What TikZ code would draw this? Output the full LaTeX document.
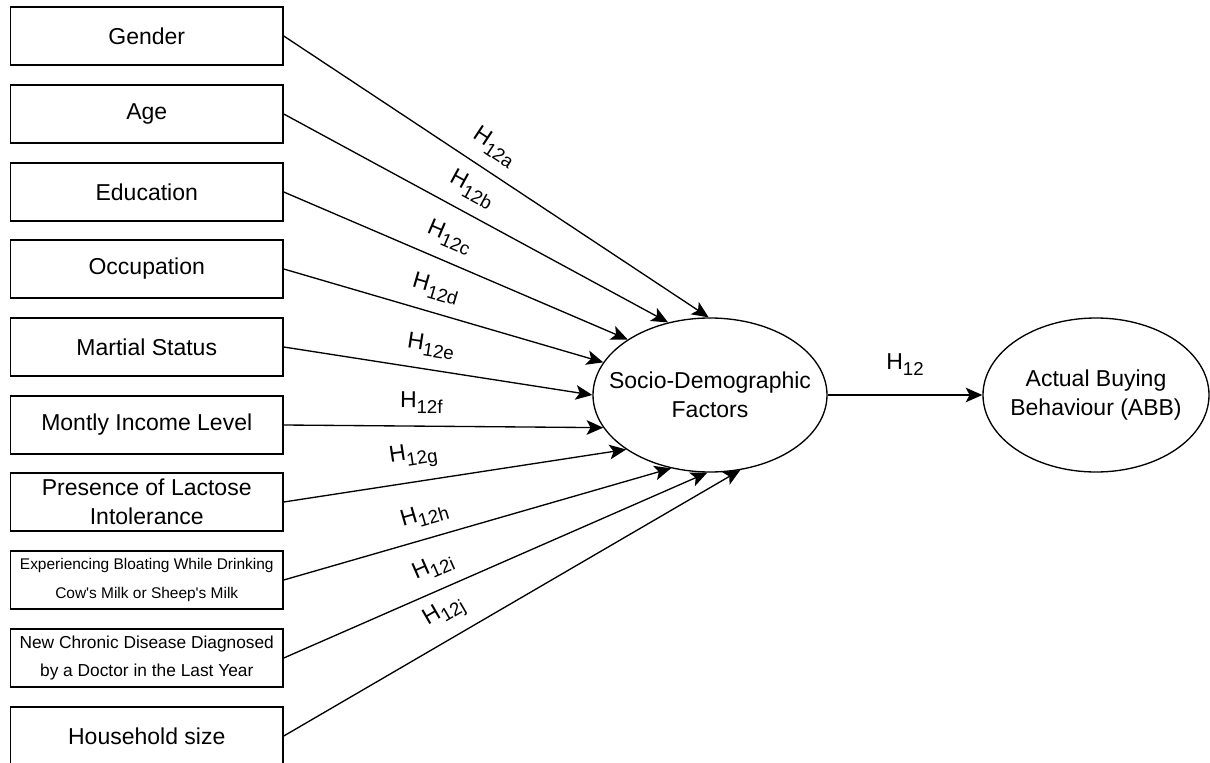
\documentclass[tikz,border=0pt]{standalone}
\usepackage{fontspec}
\setmainfont{Liberation Sans}
\usetikzlibrary{arrows.meta,shapes.geometric}
\newcommand\hyp[1]{H\raisebox{-4.5pt}{\fontsize{14}{14}\selectfont #1}}
\begin{document}
\begin{tikzpicture}[x=0.75pt,y=-0.75pt,
  box/.style={draw, line width=1.1pt, minimum width=204.4pt, minimum height=43.5pt,
    inner sep=0pt, align=center, font=\fontsize{17.25}{21.75}\selectfont},
  oval/.style={draw, ellipse, line width=1pt, inner sep=0pt,
    minimum height=115.5pt},
  ovaltext/.style={align=center, inner sep=0pt, font=\fontsize{17.25}{21.75}\selectfont},
  link/.style={line width=1pt, -{Stealth[length=12.5pt,width=11pt,inset=3pt]}},
  lab/.style={sloped, above=6pt, inner sep=3pt, font=\fontsize{17.25}{20}\selectfont}]
\useasboundingbox (0,0) rectangle (1210,763);
\fill[white] (0,0) rectangle (1210,763);

\node[box] (b1) at (146.75,36) {Gender};
\node[box] (b2) at (146.75,114) {Age};
\node[box] (b3) at (146.75,192) {Education};
\node[box] (b4) at (146.75,269) {Occupation};
\node[box] (b5) at (146.75,347) {Martial Status};
\node[box] (b6) at (146.75,425) {Montly Income Level};
\node[box] (b7) at (146.75,502) {Presence of Lactose\\Intolerance};
\node[box, font=\fontsize{11.6}{21.75}\selectfont] (b8) at (146.75,580)
  {Experiencing Bloating While Drinking\\Cow\textquotesingle s Milk or Sheep\textquotesingle s Milk};
\node[box, font=\fontsize{13}{21}\selectfont] (b9) at (146.75,658)
  {New Chronic Disease Diagnosed\\by a Doctor in the Last Year};
\node[box] (b10) at (146.75,736) {Household size};

\node[oval, minimum width=175.5pt,
  label={[ovaltext]center:Socio-Demographic\\Factors}] (sdf) at (710,395) {};
\node[oval, minimum width=169.5pt,
  label={[ovaltext]center:Actual Buying\\Behaviour (ABB)}] (abb) at (1096,395) {};

\draw[link] (b1.east) -- node[lab, pos=0.465] {\hyp{12a}} (sdf.91.5);
\draw[link] (b2.east) -- node[lab, pos=0.46] {\hyp{12b}} (sdf.120);
\draw[link] (b3.east) -- node[lab, pos=0.455] {\hyp{12c}} (sdf.146.5);
\draw[link] (b4.east) -- node[lab, pos=0.455] {\hyp{12d}} (sdf.163.3);
\draw[link] (b5.east) -- node[lab, pos=0.465] {\hyp{12e}} (sdf.180);
\draw[link] (b6.east) -- node[lab, pos=0.43] {\hyp{12f}} (sdf.197.6);
\draw[link] (b7.east) -- node[lab, pos=0.39] {\hyp{12g}} (sdf.213);
\draw[link] (b8.east) -- node[lab, pos=0.38] {\hyp{12h}} (sdf.242.9);
\draw[link] (b9.east) -- node[lab, pos=0.375] {\hyp{12i}} (sdf.268);
\draw[link] (b10.east) -- node[lab, pos=0.38] {\hyp{12j}} (sdf.292.3);

\draw[link] (sdf.east) -- node[above=11pt, inner sep=3pt, font=\fontsize{17.25}{20}\selectfont] {\hyp{12}} (abb.west);
\end{tikzpicture}
\end{document}
